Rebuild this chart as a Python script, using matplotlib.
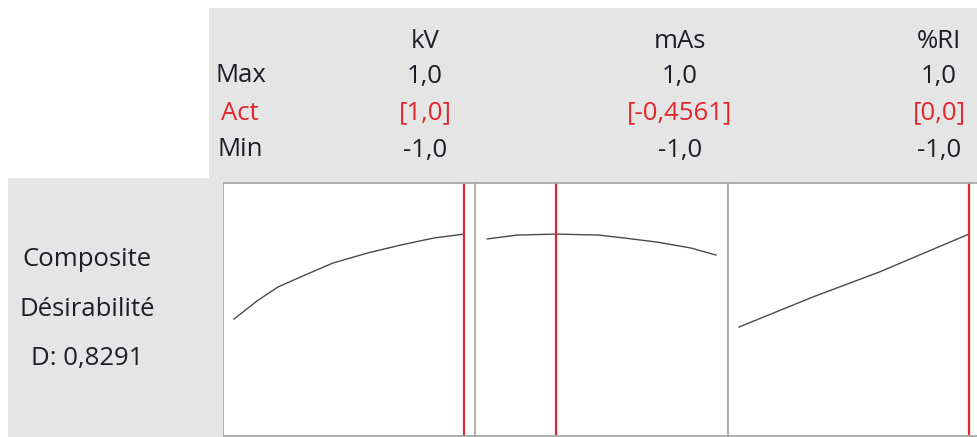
import matplotlib
matplotlib.use("Agg")
import matplotlib.pyplot as plt
from matplotlib.patches import Rectangle

plt.rcParams['font.family'] = ['Open Sans', 'DejaVu Sans']

# factors and optimizer settings (coded units)
factors = ['kV', 'mAs', '%RI']
max_labels = ['1,0', '1,0', '1,0']
act_labels = ['[1,0]', '[-0,4561]', '[0,0]']
min_labels = ['-1,0', '-1,0', '-1,0']
composite_d = 0.8291
# red line position (coded x)
opt_x = [1.0, -0.39, 1.0]

# composite desirability traces
kv_x = [-1.0, -0.80, -0.62, -0.42, -0.14, 0.16, 0.45, 0.74, 1.0]
kv_d = [0.481, 0.555, 0.612, 0.654, 0.711, 0.752, 0.785, 0.814, 0.830]
mas_x = [-0.99, -0.73, -0.39, -0.02, 0.20, 0.49, 0.78, 1.0]
mas_d = [0.810, 0.826, 0.830, 0.826, 0.814, 0.797, 0.773, 0.744]
ri_x = [-1.0, -0.36, 0.22, 1.0]
ri_d = [0.448, 0.571, 0.674, 0.830]
traces = [(kv_x, kv_d), (mas_x, mas_d), (ri_x, ri_d)]

W, H = 978, 437
BG = '#e5e5e5'
TXT = '#1e1e28'
RED = '#e3262d'
FS = 18.5


def box(x0, y0, x1, y1):
    return [x0 / W, 1 - y1 / H, (x1 - x0) / W, (y1 - y0) / H]


def ftext(x, y, s, **kw):
    fig.text(x / W, 1 - y / H, s, fontsize=FS, va='center', **kw)


fig = plt.figure(figsize=(W / 100, H / 100), dpi=100)
fig.patch.set_facecolor('white')

# gray header and left block
fig.patches.append(Rectangle((209 / W, 1 - 182 / H), (W - 209) / W, 174 / H,
                             transform=fig.transFigure, facecolor=BG, edgecolor='none', zorder=0))
fig.patches.append(Rectangle((8 / W, 0), (223 - 8) / W, 1 - 178 / H,
                             transform=fig.transFigure, facecolor=BG, edgecolor='none', zorder=0))

# row labels
ftext(216, 76, 'Max', color=TXT, ha='left')
ftext(221, 113, 'Act', color=RED, ha='left')
ftext(218, 150, 'Min', color=TXT, ha='left')

col_x = [425, 680, 939]
for cx, f, mx, ac, mn in zip(col_x, factors, max_labels, act_labels, min_labels):
    ftext(cx, 42, f, color=TXT, ha='center')
    ftext(cx, 76, mx, color=TXT, ha='center')
    ftext(cx, 113, ac, color=RED, ha='center')
    ftext(cx, 150, mn, color=TXT, ha='center')

ftext(87, 260, 'Composite', color=TXT, ha='center')
ftext(87, 310, 'Désirabilité', color=TXT, ha='center')
ftext(87, 358, 'D: ' + f'{composite_d:.4f}'.replace('.', ','), color=TXT, ha='center')

# panels
panel_left = [223, 475, 728]
for i, (px, (tx, td)) in enumerate(zip(panel_left, traces)):
    ax = fig.add_axes(box(px, 183, px + 253, 436))
    ax.set_facecolor('white')
    ax.plot(tx, td, color='#4a4a4a', lw=1.0)
    ax.axvline(opt_x[i], color=RED, lw=1.6)
    ax.set_xlim(-1.096, 1.105)
    ax.set_ylim(0, 1.04)
    ax.set_xticks([])
    ax.set_yticks([])
    for sp in ax.spines.values():
        sp.set_color('#a8a8a8')
        sp.set_linewidth(1.3)

fig.savefig('out.png', dpi=100, facecolor=fig.get_facecolor())
